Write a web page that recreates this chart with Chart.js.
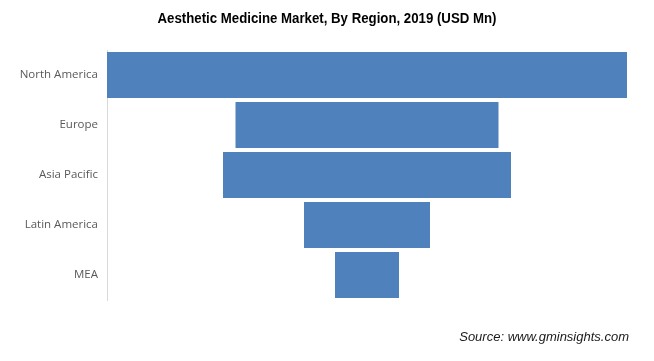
<!DOCTYPE html>
<html>
<head>
<meta charset="utf-8">
<script src="https://cdn.jsdelivr.net/npm/chart.js@4/dist/chart.umd.min.js"></script>
<style>
html,body{margin:0;padding:0;background:#fff;}
#wrap{position:relative;width:654px;height:361px;}
</style>
</head>
<body>
<div id="wrap"><canvas id="c" width="654" height="361"></canvas></div>
<script>
const titleText = "Aesthetic Medicine Market, By Region, 2019 (USD Mn)";
const sourceText = "Source: www.gminsights.com";
const categories = ["North America", "Europe", "Asia Pacific", "Latin America", "MEA"];
const values = [26000, 13150, 14400, 6300, 3200];

const maxV = Math.max(...values);
const funnelData = values.map(v => [(maxV - v) / 2, (maxV + v) / 2]);

const textPlugin = {
  id: 'texts',
  afterDraw(chart) {
    const ctx = chart.ctx;
    ctx.save();
    ctx.fillStyle = '#000000';
    ctx.font = 'bold 14.5px "Liberation Sans", Arial, sans-serif';
    ctx.textAlign = 'center';
    ctx.textBaseline = 'middle';
    const w = ctx.measureText(titleText).width;
    const sx = 339 / w;
    ctx.translate(327, 19);
    ctx.scale(sx, 1);
    ctx.fillText(titleText, 0, 0);
    ctx.restore();
    ctx.save();
    ctx.fillStyle = '#1a1a1a';
    ctx.font = 'italic 13px "Liberation Sans", Arial, sans-serif';
    ctx.textAlign = 'right';
    ctx.textBaseline = 'middle';
    ctx.fillText(sourceText, 629, 337);
    ctx.restore();
  }
};

new Chart(document.getElementById('c'), {
  type: 'bar',
  data: {
    labels: categories,
    datasets: [{
      data: funnelData,
      backgroundColor: '#4F81BD',
      borderWidth: 0,
      barPercentage: 0.92,
      categoryPercentage: 1.0
    }]
  },
  options: {
    indexAxis: 'y',
    responsive: false,
    animation: false,
    layout: { padding: { top: 50, bottom: 61, left: 0, right: 27 } },
    plugins: { legend: { display: false }, tooltip: { enabled: false }, title: { display: false } },
    scales: {
      x: { display: false, min: 0, max: maxV },
      y: {
        grid: { display: false },
        border: { display: true, color: '#d9d9d9', width: 1 },
        ticks: { color: '#595959', font: { family: '"Open Sans", "DejaVu Sans", sans-serif', size: 11.5 }, padding: 1 },
        afterFit(s) { s.width = 107; }
      }
    }
  },
  plugins: [textPlugin]
});
</script>
</body>
</html>
